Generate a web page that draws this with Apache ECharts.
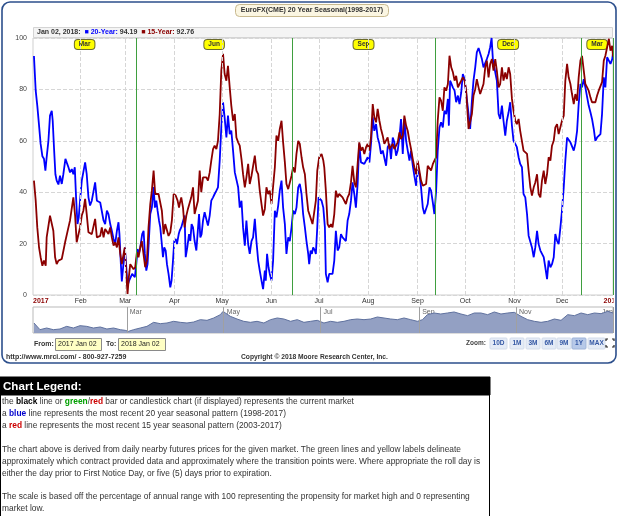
<!DOCTYPE html>
<html>
<head>
<meta charset="utf-8">
<title>EuroFX(CME) 20 Year Seasonal</title>
<script src="https://cdn.jsdelivr.net/npm/echarts@6.0.0/dist/echarts.min.js"></script>
<style>
  html, body { margin: 0; padding: 0; background: #fff; }
  #main { width: 625px; height: 516px; }
</style>
</head>
<body>
<div id="main"></div>
<script>
// x values are day of year (Jan 1 2017 = 0), from Jan 02 2017 to Jan 02 2018
var monthDays = [1, 31, 59, 90, 120, 151, 181, 212, 243, 273, 304, 334, 365];
var monthNames = ['2017', 'Feb', 'Mar', 'Apr', 'May', 'Jun', 'Jul', 'Aug', 'Sep', 'Oct', 'Nov', 'Dec', '2018'];
var rollDays = [1, 66, 164, 254, 346, 366];
var contractNames = ['Mar', 'Jun', 'Sep', 'Dec', 'Mar'];
var navDays = [60, 121, 182, 244, 305, 366];
var navNames = ['Mar', 'May', 'Jul', 'Sep', 'Nov', 'Jan'];

// 20-year seasonal pattern (1998-2017)
var blue20 = [[1.6,93],[2.7,79.5],[3.7,73.7],[4.8,66],[5.8,58.8],[6.9,54],[7.9,53],[8.8,48.4],[9.6,53.6],[10.7,60],[11.7,69.8],[12.8,71.7],[13.4,67.8],[14.2,57.5],[15.1,47],[15.9,44.5],[17,43],[18,46.4],[19.1,43.2],[20.1,47],[21.4,53],[22.2,51.6],[23.3,49.7],[24.3,47.7],[25.4,49],[26.4,47],[27.3,49.7],[28.1,38],[29,27.6],[29.8,30.2],[30.6,36.7],[31.7,44.5],[32.7,45],[33.8,51.6],[34.8,47],[35.9,38],[36.9,34.8],[38,36.7],[39,36],[40.1,43.8],[41.2,36.7],[42.2,36],[43.3,36],[44.3,36],[45.4,29],[46.4,27.6],[47.5,32.8],[48.5,31.5],[49.6,27.6],[50.6,25],[51.7,21.8],[52.7,19.8],[53.8,25],[54.8,28.3],[55.4,23.7],[56.3,12],[56.9,5.3],[58,12.7],[58.8,18.5],[59.7,10.8],[60.5,3.6],[61.5,5.6],[62.6,5.6],[63.4,8.2],[64.3,7.5],[65.1,6.9],[66,12],[66.8,17.9],[67.6,16],[68.5,18.5],[69.7,23.7],[70.6,25],[71.4,16],[72.3,9.5],[73.1,12],[73.9,21],[74.8,31.5],[75.8,34],[76.9,42],[77.7,34],[78.6,36.7],[79.4,32.8],[80.3,29],[81.1,26.3],[81.9,21],[82.8,14.7],[83.6,18.5],[84.5,17.3],[85.3,12],[86.3,8.2],[87.4,3],[88.2,5.6],[89.1,13.4],[89.9,21],[90.8,21.8],[91.6,19.8],[92.7,23.7],
  [93.3,25],[94.3,26.3],[95.4,26.3],[96.4,30.9],[97.1,14.7],[98.1,18.5],[99.2,23.7],[100,21],[100.8,27.6],[101.7,26.3],[102.7,21],[103.8,17.3],[104.8,16.6],[105.5,31.5],[106.3,22.4],[107.1,23.7],[108,29],[109,32.2],[110.1,31.5],[111.1,27],[112.2,30.9],[113.2,36.7],[114.3,38],[115.3,39.3],[116.4,40.6],[117.4,41.9],[118.5,52.3],[119.5,65.2],[120.6,75],[121.6,69],[122.7,61.3],[123.7,69.8],[124.8,62.6],[125.8,64],[126.9,56.2],[128,47.7],[129,47],[130.1,41.9],[131.1,34],[132.2,36.7],[133.2,26.3],[134.3,19.2],[135.3,29],[136.4,19.8],[137.4,16],[138.5,21],[139.5,22.4],[140.6,29.6],[141.6,21],[142.7,13.4],[143.7,9.5],[144.8,5.6],[145.8,2.3],[146.9,9.5],[147.5,5.6],[148.3,16],[149.2,10.8],[150,8.2],[151.1,5.6],[152.1,13.4],[153.2,32.8],[154.2,30.2],[155.3,34.8],[156.3,40.6],[157.4,44.5],[158.4,34],[159.5,27.6],[160.5,16],[161.6,22.4],[162.6,21],[163.7,26.3],[164.7,32.8],[165.8,31.5],[166.8,34],[167.9,41.9],[168.9,43.2],[170,39.3],[171,31.5],[172.1,26.3],[173.1,21],[174.2,16],[174.8,12],[175.7,17.3],[176.5,16],[177.3,18.5],[178.4,17.3],[179,16],[179.9,26.3],[180.7,38],[181.6,38],[182.6,36.7],[183.7,34],[184.7,26.3],
  [185.3,8.2],[186.4,4.9],[187.4,8.2],[188.5,8.2],[189.5,8.2],[190.6,13.4],[191.6,25],[192.7,17.3],[193.7,18.5],[194.8,23.7],[195.8,22.4],[196.9,21.8],[197.9,21],[199,29],[200,31.5],[201.1,36.7],[202.1,43.8],[203.2,39.3],[204.2,34],[205.3,43.2],[206.3,58.8],[207.4,51.6],[208.4,51.6],[209.5,51],[210.6,50.3],[211.6,53.6],[212.7,51.6],[213.7,58.8],[214.8,69.1],[215.8,63.9],[216.9,66.5],[217.9,61.3],[219,58.8],[220,54.9],[221.1,56.2],[222.1,55.5],[223.2,50.3],[224.2,57.5],[225.3,58.8],[226.3,52.9],[227.4,61.3],[228.4,59.4],[229.5,54.2],[230.5,56.2],[231.6,61.3],[232.6,68.5],[233.7,54.9],[234.7,68.5],[235.8,60],[236.8,59.4],[237.9,52.3],[238.9,56.2],[240,50.3],[241,46.4],[242.1,42.5],[243.1,48.4],[244.2,47],[245.2,41.9],[246.3,34],[247.3,31.5],[248.4,30.9],[249.4,35.4],[250.5,41.9],[251.5,40.6],[252.6,36],[253.6,31.5],[254.7,40.6],[255.7,56.2],[256.8,65.2],[257.8,67.2],[258.9,65.2],[259.9,71.7],[261,70.4],[262.1,76.3],[262.7,65.9],[263.5,83.4],[264.4,82.1],[265.2,80.8],[266.3,79.5],[267.3,75],[268.4,77.6],[269.4,74.3],[270.5,78.9],[271.5,86],[272.6,84],[273.6,83.4],
  [275.1,70.4],[276.1,64.6],[277.2,75.6],[278.2,83.4],[279.3,88.6],[280.3,94.4],[281.4,96.1],[282.4,95.7],[283.5,91.8],[284.5,88.6],[285.6,89.2],[286.6,91.8],[287.7,93.8],[288.7,96.4],[289.6,100],[290.4,91.8],[291.3,91.2],[292.1,86],[292.9,83.4],[294,70.4],[295,68.5],[296.1,73.7],[297.1,67.8],[298.2,62],[299.2,67.8],[300.3,71.1],[301.3,75],[302.4,65.9],[303.4,60],[304.5,58.8],[305.5,57.5],[306.6,53.6],[307.6,51],[308.7,49.7],[309.7,39.3],[310.8,38],[311.9,31.5],[312.9,23.1],[314,22.4],[315,18.5],[316.1,14.7],[317.1,18.5],[318.2,25],[319.2,19.8],[320.3,17.3],[321.3,17.3],[322.4,14.7],[323.4,10.8],[324.5,6.2],[325.5,13.4],[326.6,10.8],[327.6,12],[328.7,14.7],[329.7,23.7],[330.8,21.1],[331.8,19.8],[332.9,26.3],[333.9,32.8],[335,41.9],[336,52.3],[337.1,61.3],[338.1,62],[339.2,59.4],[340.2,60],[341.3,56.2],[342.3,58.8],[343.4,63.9],[344.4,74.3],[345.5,82.1],[346.5,80.8],[347.6,84],[348.6,80.8],[349.7,80.8],[350.7,73.7],[351.8,71.1],[352.8,68.5],[353.9,64.6],[354.9,60],[356,61.3],[357,62],[358.1,62.6],[359.1,70.4],[360.2,84.7],[361.2,80.8],[362.3,92.5],[363.4,91.2],[364.4,89.9],[365.5,91.8],[366,94.19]];

// 15-year seasonal pattern (2003-2017)
var red15 = [[1.6,44.5],[2.7,36.7],[3.7,26.3],[4.8,18.5],[5.8,14.7],[6.9,11.4],[7.9,13.4],[9,11.4],[9.6,22.4],[10.7,23],[11.7,30.9],[12.8,30.2],[13.8,25],[14.9,14.7],[15.9,12],[17,13.4],[18,13.4],[19.1,14],[20.1,14],[21.2,20.5],[22.2,21.1],[23.3,26.3],[24.3,29],[25.4,29.6],[26.4,38],[27.5,30.9],[28.5,20.5],[29.6,19.8],[30.6,26.3],[31.7,30.9],[32.7,32.8],[33.8,37.4],[34.8,31.5],[35.9,24.4],[36.9,23.7],[38,23.7],[39,24.4],[40.1,29.6],[41.2,22.4],[42.2,21.8],[43.3,23],[44.3,26.3],[45.4,22.4],[46.4,25.7],[47.5,25],[48.5,23.7],[49.6,26.3],[50.6,22.4],[51.7,19.2],[52.7,20.5],[53.8,18.5],[54.8,22.4],[55.9,16],[56.9,12],[58,16],[58.8,18.5],[59.7,8.2],[60.5,0.4],[61.3,6.9],[62.2,12],[63.2,12],[64.3,10],[65.3,10.8],[66.4,16.6],[67.4,14.7],[68.5,18.5],[69.5,21],[70.6,21],[71.6,10.8],[72.7,13.4],[73.7,26.3],[74.8,35.4],[75.8,40.6],[76.9,48.4],[77.9,39.3],[79,39.3],[80,39.3],[81.1,40],[82.1,32.8],[83.2,23.7],[84.2,27.6],[85.3,28.3],[86.3,23],[87.4,24.4],[88.4,29],[89.5,39.3],[90.8,38.7],[92,36.7],[92.9,34],
  [93.3,35.4],[94.3,38],[95.4,34],[96.4,26.3],[97.5,30.9],[98.5,33.5],[99.6,34],[100.6,38],[101.7,41.9],[102.7,31.5],[103.8,30.9],[104.8,36.7],[105.9,48.4],[106.9,40],[108,45.8],[109,46.4],[110.1,45.8],[111.1,44.5],[112.2,47.7],[113.2,52.3],[114.3,56.8],[115.3,58.1],[116.4,56.8],[117.4,60],[118.5,70.4],[119.5,87.3],[120.6,93.8],[121.6,86],[122.7,83.4],[123.7,89.2],[124.8,80.8],[125.8,73.7],[126.9,67.8],[128,70.4],[129,61.3],[130.1,59.4],[131.1,58.1],[132.2,52.9],[133.2,47],[134.3,41.9],[135.3,45.8],[136.4,51],[137.4,43.2],[138.5,46.4],[139.5,45.8],[140.6,54.2],[141.6,48.4],[142.7,47],[143.7,40.6],[144.8,35.4],[145.8,30.9],[146.9,33.5],[147.9,41.9],[149,39.3],[150,40.6],[151.1,35.4],[152.1,34.8],[153.2,49.7],[154.2,62],[155.3,60],[156.3,64.6],[157.4,67.8],[158.4,59.4],[159.5,51.6],[160.5,43.2],[161.6,41.2],[162.6,41.9],[163.7,46.4],[164.7,49.7],[165.8,47.7],[166.8,54.9],[167.9,60],[168.9,58.8],[170,53.6],[171,49.7],[172.1,47],[173.1,39.3],[174.2,32.8],[175.2,30.9],[176.3,31.5],[176.9,27.6],[177.8,31.5],[179,36.7],[179.9,48.4],[181.1,53.6],[182.6,54.9],[183.7,52.3],
  [184.3,49.7],[185.3,40.6],[186.4,27.6],[187.4,26.3],[188.5,27.6],[189.5,26.3],[190.6,31.5],[191.6,40.6],[192.7,38],[193.7,39.3],[194.8,40],[195.8,38],[196.9,37.4],[197.9,35.4],[199,38],[200,39.3],[201.1,43.8],[202.1,50.3],[203.2,43.8],[204.2,41.9],[205.3,42.5],[206.3,59.4],[207.4,56.2],[208.4,57.5],[209.5,54.9],[210.6,57.5],[211.6,58.8],[212.7,56.2],[213.7,61.3],[214.8,74.3],[215.8,69.1],[216.9,67.2],[217.9,72.4],[219,67.8],[220,64.6],[221.1,62],[222.1,58.8],[223.2,59.4],[224.2,61.3],[225.3,56.8],[226.3,56.2],[227.4,58.8],[228.4,56.8],[229.5,56.2],[230.5,59.4],[231.6,63.3],[232.6,60.7],[233.7,62],[234.7,69.8],[235.8,65.9],[236.8,63.9],[237.9,60],[238.9,56.8],[240,52.9],[241,49.7],[242.1,47],[243.1,52.3],[244.2,51.6],[245.2,44.5],[246.3,42.5],[247.3,41.9],[248.4,43.2],[249.4,50.3],[250.5,49.7],[251.5,48.4],[252.6,50.9],[253.6,52.3],[254.7,53.6],[255.7,67.8],[256.8,76.9],[257.8,75.6],[258.9,71.7],[259.9,80.8],[261,79.5],[262.1,82.1],[263.1,93.1],[264.2,88.6],[265.2,86.8],[266.3,83.4],[267.3,85.3],[268.4,80.8],[269.4,82.1],[270.5,83.4],[271.5,84.7],[272.6,83.4],[273.6,79.5],
  [274,75.6],[275.1,64.6],[276.1,63.9],[277.2,70.4],[278.2,77.6],[279.3,80.1],[280.3,84],[281.4,80.8],[282.4,78.2],[283.5,78.2],[284.5,82.1],[285.6,88.6],[286.6,91.2],[287.7,84.7],[288.7,89.9],[289.8,91.8],[290.8,87.3],[291.9,91.8],[292.9,87.3],[294,80.8],[295,82.1],[296.1,88.6],[297.1,83.4],[298.2,86.6],[299.2,84],[300.3,88.6],[301.3,86],[302.4,76.3],[303.4,71.7],[304.5,67.8],[305.5,66.5],[306.6,68.5],[307.6,63.9],[308.7,63.3],[309.7,56.2],[310.8,55.5],[311.9,54.9],[312.9,48.4],[314,41.9],[315,38.7],[316.1,41.9],[317.1,43.8],[318.2,47],[319.2,39.3],[320.3,38],[321.3,44.5],[322.4,48.4],[323.4,43.2],[324.5,47],[325.5,53.6],[326.6,52.3],[327.6,58.1],[328.7,60],[329.7,65.2],[330.8,66.5],[331.8,62.6],[332.9,62.6],[333.9,67.8],[335,69.8],[336,83.4],[337.1,89.9],[338.1,84.7],[339.2,82.1],[340.2,78.2],[341.3,74.3],[342.3,78.2],[343.4,75.6],[344.4,84.7],[345.5,91.2],[346.5,93.1],[347.6,87.3],[348.6,82.1],[349.7,80.8],[350.7,79.5],[351.8,76.9],[352.8,75],[353.9,74.3],[354.9,75],[356,77.6],[357,79.5],[358.1,79.5],[359.1,82.8],[360.2,91.2],[361.2,93.1],[362.3,96.4],[363.4,99.7],[364.4,95.1],[365.5,97],[366,92.76]];

// navigator (overview) line
var navLine = [[1.6,38.5],[5.4,12.8],[9.6,19.2],[13.8,12.8],[18,15.4],[22.2,25.6],[26.4,19.2],[30.6,28.2],[34.8,25.6],[39,19.2],[43.3,23.1],[47.5,15.4],[51.7,19.2],[55.9,12.8],[59,10.3],[61.1,6.4],[64.3,12.8],[68.5,19.2],[72.7,25.6],[76.9,41],[81.1,35.9],[85.3,38.5],[89.5,44.9],[93.7,41],[97.9,38.5],[102.1,42.3],[106.3,51.3],[110.5,48.7],[114.7,57.7],[118.9,70.5],[120.6,83.3],[122.1,76.9],[125.2,64.1],[129.4,53.8],[133.6,44.9],[137.8,41],[142,44.9],[146.3,38.5],[150.5,51.3],[154.7,57.7],[158.9,53.8],[163.1,44.9],[167.3,51.3],[171.5,41],[175.7,44.9],[179.9,48.7],[180.9,48.7],[184.1,38.5],[188.3,44.9],[192.5,41],[196.7,44.9],[200.9,51.3],[205.1,53.8],[209.3,51.3],[213.5,53.8],[217.7,61.5],[221.9,57.7],[226.1,53.8],[230.3,51.3],[234.5,57.7],[238.7,51.3],[242.9,44.9],[246.1,51.3],[249.2,70.5],[253.4,76.9],[257.6,73.1],[261.8,76.9],[266,80.8],[270.3,73.1],[274.5,66.7],[278.7,76.9],[282.9,76.9],[287.1,70.5],[291.3,80.8],[295.5,73.1],[299.7,76.9],[303.9,79.5],[308.1,64.1],[312.3,51.3],[316.5,44.9],[320.7,41],[324.9,44.9],[329.1,53.8],[333.3,48.7],[337.5,70.5],[341.7,66.7],[345.9,76.9],[350.1,70.5],[354.3,76.9],[358.5,74.4],[362.7,83.3],[366,76.9]];

var lastBlue = blue20[blue20.length - 1][1];
var lastRed = red15[red15.length - 1][1];

var FONT = 'Liberation Sans, Arial, sans-serif';

function txt(x, y, s, font, fill, align) {
    return {
        type: 'text', x: x, y: y, silent: true,
        style: { text: s, font: font, fill: fill || '#333', textAlign: align || 'left', textVerticalAlign: 'middle' }
    };
}
function box(x, y, w, h, fill, stroke, r) {
    return {
        type: 'rect', silent: true,
        shape: { x: x, y: y, width: w, height: h, r: r || 0 },
        style: { fill: fill, stroke: stroke, lineWidth: 1 }
    };
}

// vertical month grid lines
var monthLines = [];
for (var i = 1; i < monthDays.length - 1; i++) {
    monthLines.push({ xAxis: monthDays[i] });
}
// green contract roll lines
var rollLines = [];
for (var j = 1; j < rollDays.length; j++) {
    rollLines.push({ xAxis: rollDays[j] });
}
var contractAreas = [];
for (var k = 0; k < contractNames.length; k++) {
    contractAreas.push([{ xAxis: rollDays[k], name: contractNames[k] }, { xAxis: rollDays[k + 1] }]);
}
var navLines = navDays.map(function (d) {
    return { xAxis: d };
});

// buttons under the chart
var zoomBtns = [['10D', 490, 17], ['1M', 510, 14], ['3M', 526, 14], ['6M', 542, 14], ['9M', 557, 14], ['1Y', 572, 14], ['MAX', 588, 17]];
var graphics = [];
zoomBtns.forEach(function (b) {
    var sel = b[0] === '1Y';
    graphics.push(box(b[1], 338, b[2], 11, sel ? '#b7c9e8' : '#e4ebf6', sel ? '#9fb4d8' : '#d3dcea', 1));
    graphics.push(txt(b[1] + b[2] / 2, 343.5, b[0], 'bold 6.5px ' + FONT, '#3458a4', 'center'));
});

graphics = graphics.concat([
    // the last axis label is cut off at the plot edge
    { type: 'rect', silent: true, z: 99, shape: { x: 613.5, y: 296, width: 11, height: 9 }, style: { fill: '#fff' } },
    // outer frame
    { type: 'rect', silent: true, z: 100, shape: { x: 2, y: 2, width: 614, height: 361, r: 8 }, style: { fill: 'none', stroke: '#2c4f8c', lineWidth: 1.6 } },
    // title
    box(235.5, 4.5, 153, 12, '#fbf6e2', '#c8b98e', 4),
    txt(312, 10.5, 'EuroFX(CME) 20 Year Seasonal(1998-2017)', 'bold 7px ' + FONT, '#333', 'center'),
    // header strip
    box(33.5, 27.5, 579, 10, '#f4f4f4', '#d4d4d4', 0),
    {
        type: 'text', x: 37, y: 32.5, silent: true,
        style: {
            text: '{d|Jan 02, 2018:}  {bq|■} {b|20-Year:}{v| ' + lastBlue.toFixed(2) + '}  {rq|■} {r|15-Year:}{v| ' + lastRed.toFixed(2) + '}',
            textVerticalAlign: 'middle', font: 'bold 7px ' + FONT,
            rich: {
                d: { fill: '#333', font: 'bold 7px ' + FONT },
                bq: { fill: '#0000ff', font: 'bold 7px ' + FONT },
                b: { fill: '#0000ff', font: 'bold 7px ' + FONT },
                rq: { fill: '#8b0000', font: 'bold 7px ' + FONT },
                r: { fill: '#8b0000', font: 'bold 7px ' + FONT },
                v: { fill: '#333', font: 'bold 7px ' + FONT }
            }
        }
    },
    // date range
    txt(34, 344, 'From:', 'bold 7px ' + FONT, '#333'),
    box(55.5, 338.5, 46, 12, '#ffffc4', '#8a8a8a', 0),
    txt(58, 344.5, '2017 Jan 02', '7px ' + FONT, '#222'),
    txt(106, 344, 'To:', 'bold 7px ' + FONT, '#333'),
    box(118.5, 338.5, 47, 12, '#ffffc4', '#8a8a8a', 0),
    txt(121, 344.5, '2018 Jan 02', '7px ' + FONT, '#222'),
    txt(466, 343.5, 'Zoom:', 'bold 6.5px ' + FONT, '#444'),
    // full screen icon
    { type: 'polyline', silent: true, shape: { points: [[606, 341], [606, 339], [608, 339]] }, style: { stroke: '#222', lineWidth: 1.2, fill: 'none' } },
    { type: 'polyline', silent: true, shape: { points: [[612, 339], [614, 339], [614, 341]] }, style: { stroke: '#222', lineWidth: 1.2, fill: 'none' } },
    { type: 'polyline', silent: true, shape: { points: [[606, 345], [606, 347], [608, 347]] }, style: { stroke: '#222', lineWidth: 1.2, fill: 'none' } },
    { type: 'polyline', silent: true, shape: { points: [[612, 347], [614, 347], [614, 345]] }, style: { stroke: '#222', lineWidth: 1.2, fill: 'none' } },
    // footer
    txt(6, 357, 'http://www.mrci.com/ - 800-927-7259', 'bold 7px ' + FONT, '#333'),
    txt(241, 357, 'Copyright © 2018 Moore Research Center, Inc.', 'bold 6.7px ' + FONT, '#333'),
    // chart legend block
    box(0, 377, 490, 18, '#000', '#000', 0),
    txt(3, 386.5, 'Chart Legend:', 'bold 11.6px ' + FONT, '#fff'),
    box(0.5, 395, 489, 130, '#fff', '#000', 0)
]);

var LF = '8.4px ' + FONT;
var LB = 'bold 8.4px ' + FONT;
function legendLine(y, s) {
    return {
        type: 'text', x: 2, y: y, silent: true,
        style: {
            text: s, font: LF, fill: '#333', textVerticalAlign: 'middle',
            rich: {
                k: { font: LF, fill: '#333' },
                bk: { font: LB, fill: '#000' },
                bg: { font: LB, fill: '#00a000' },
                br: { font: LB, fill: '#cc0000' },
                bb: { font: LB, fill: '#0000cc' }
            }
        }
    };
}
graphics = graphics.concat([
    legendLine(402, '{k|the }{bk|black}{k| line or }{bg|green}{k|/}{br|red}{k| bar or candlestick chart (if displayed) represents the current market}'),
    legendLine(414, '{k|a }{bb|blue}{k| line represents the most recent 20 year seasonal pattern (1998-2017)}'),
    legendLine(426, '{k|a }{br|red}{k| line represents the most recent 15 year seasonal pattern (2003-2017)}'),
    legendLine(450, '{k|The chart above is derived from daily nearby futures prices for the given market. The green lines and yellow labels delineate}'),
    legendLine(462, '{k|approximately which contract provided data and approximately where the transition points were. Where appropriate the roll day is}'),
    legendLine(474, '{k|either the day prior to First Notice Day, or five (5) days prior to expiration.}'),
    legendLine(497, '{k|The scale is based off the percentage of annual range with 100 representing the propensity for market high and 0 representing}'),
    legendLine(509, '{k|market low.}')
]);

var chart = echarts.init(document.getElementById('main'), null, { renderer: 'canvas' });

var option = {
    backgroundColor: '#fff',
    animation: false,
    textStyle: { fontFamily: FONT },
    grid: [
        { left: 33, right: 12, top: 38, height: 257, show: true, borderColor: '#cfcfcf', borderWidth: 1, backgroundColor: '#fff' },
        { left: 33, right: 12, top: 307, height: 26, show: true, borderColor: '#b9b9b9', borderWidth: 1, backgroundColor: '#fff' }
    ],
    xAxis: [
        {
            type: 'value', gridIndex: 0, min: 1, max: 366,
            axisLine: { show: false }, axisTick: { show: false }, splitLine: { show: false },
            axisLabel: {
                customValues: monthDays,
                margin: 3, fontSize: 7, color: '#333', alignMinLabel: 'left',
                formatter: function (v) {
                    var n = monthNames[monthDays.indexOf(v)];
                    return (v === 1 || v === 365) ? '{y|' + n + '}' : n;
                },
                rich: { y: { color: '#8b0000', fontWeight: 'bold', fontSize: 7 } }
            }
        },
        {
            type: 'value', gridIndex: 1, min: 1, max: 366, position: 'top',
            axisLine: { show: false }, axisTick: { show: false }, splitLine: { show: false },
            axisLabel: {
                inside: true, customValues: navDays, margin: 2, fontSize: 7, color: '#666',
                align: 'left', padding: [0, 0, 0, 3], alignMaxLabel: 'right',
                formatter: function (v) { return navNames[navDays.indexOf(v)]; }
            }
        }
    ],
    yAxis: [
        {
            type: 'value', gridIndex: 0, min: 0, max: 100, interval: 20,
            axisLine: { show: false }, axisTick: { show: false },
            axisLabel: { fontSize: 7, color: '#444', margin: 6 },
            splitLine: { lineStyle: { color: '#d6d6d6', type: 'dashed' } }
        },
        { type: 'value', gridIndex: 1, min: 0, max: 100, show: false, splitLine: { show: false } }
    ],
    series: [
        {
            name: 'months', type: 'line', xAxisIndex: 0, yAxisIndex: 0, data: [], z: 1, silent: true,
            markLine: {
                silent: true, symbol: ['none', 'none'], label: { show: false },
                lineStyle: { color: '#d6d6d6', type: 'dashed', width: 1 },
                data: monthLines
            }
        },
        {
            name: 'rolls', type: 'line', xAxisIndex: 0, yAxisIndex: 0, data: [], z: 2, silent: true,
            markLine: {
                silent: true, symbol: ['none', 'none'], label: { show: false },
                lineStyle: { color: '#3f9f3f', type: 'solid', width: 1 },
                data: rollLines
            },
            markArea: {
                silent: true,
                itemStyle: { color: 'rgba(0,0,0,0)', borderWidth: 0 },
                label: {
                    show: true, position: 'insideTop', distance: 2,
                    backgroundColor: '#ffff00', borderColor: '#6b6b2a', borderWidth: 1, borderRadius: 3,
                    padding: [1, 4, 1, 4], fontSize: 6.5, fontWeight: 'bold', color: '#333'
                },
                data: contractAreas
            }
        },
        {
            name: '20-Year', type: 'line', xAxisIndex: 0, yAxisIndex: 0, data: blue20, z: 3,
            symbol: 'none', lineStyle: { color: '#0000ff', width: 1.8 }, itemStyle: { color: '#0000ff' }
        },
        {
            name: '15-Year', type: 'line', xAxisIndex: 0, yAxisIndex: 0, data: red15, z: 4,
            symbol: 'none', lineStyle: { color: '#8b0000', width: 1.8 }, itemStyle: { color: '#8b0000' }
        },
        {
            name: 'navigator', type: 'line', xAxisIndex: 1, yAxisIndex: 1, data: navLine, z: 2, silent: true,
            symbol: 'none', lineStyle: { color: '#5f719e', width: 1 },
            areaStyle: { color: '#93a0c3', opacity: 1 },
            markLine: {
                silent: true, symbol: ['none', 'none'], label: { show: false },
                lineStyle: { color: '#a0a0a0', type: 'solid', width: 1 },
                data: navLines
            }
        }
    ],
    graphic: graphics
};

chart.setOption(option);
</script>
</body>
</html>
